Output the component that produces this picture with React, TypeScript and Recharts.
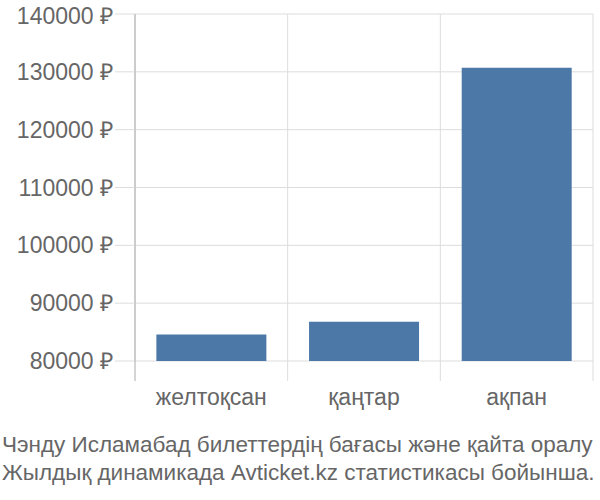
import { BarChart, Bar, XAxis, YAxis, CartesianGrid } from "recharts";

const months = ["желтоқсан", "қаңтар", "ақпан"];
const prices = [84600, 86800, 130700];
const yTicks = [80000, 90000, 100000, 110000, 120000, 130000, 140000];
const titleLines = [
  "Чэнду Исламабад билеттердің бағасы және қайта оралу",
  "Жылдық динамикада Avticket.kz статистикасы бойынша.",
];

const data = months.map((m, i) => ({ month: m, price: prices[i] }));

const textColor = "#666";
const gridColor = "#ddd";
const axisColor = "#aaa";

function MonthTick(props: any) {
  const { x, y, payload, index, visibleTicksCount, width } = props;
  const half = payload?.offset || width / visibleTicksCount / 2;
  return (
    <g>
      <line x1={x - half} x2={x - half} y1={y} y2={y + 20} stroke={index === 0 ? axisColor : gridColor} />
      {index === visibleTicksCount - 1 && (
        <line x1={x + half} x2={x + half} y1={y} y2={y + 20} stroke={gridColor} />
      )}
      <text x={x} y={y + 44} textAnchor="middle" fill={textColor} fontSize={23}>
        {payload.value}
      </text>
    </g>
  );
}

export default function App() {
  return (
    <div style={{ position: "absolute", left: 0, top: 0, width: 600, height: 500, fontFamily: "'Liberation Sans', Arial, sans-serif" }}>
      <BarChart
        width={600}
        height={420}
        data={data}
        margin={{ top: 14, right: 7, bottom: 0, left: 0 }}
        barCategoryGap="14%"
      >
        <CartesianGrid
          stroke={gridColor}
          verticalCoordinatesGenerator={({ offset }: any) =>
            months.map((_, i) => offset.left + (i * offset.width) / months.length).concat(offset.left + offset.width)
          }
        />
        <XAxis
          dataKey="month"
          axisLine={false}
          tickLine={false}
          tickSize={0}
          tickMargin={0}
          height={59}
          interval={0}
          tick={<MonthTick />}
        />
        <YAxis
          width={135}
          domain={[80000, 140000]}
          ticks={yTicks}
          allowDataOverflow
          axisLine={{ stroke: axisColor }}
          tickLine={{ stroke: gridColor }}
          tickSize={20}
          tickMargin={2}
          tick={{ fill: textColor, fontSize: 23 }}
          tickFormatter={(v: number) => `${v} ₽`}
        />
        <Bar dataKey="price" fill="#4c78a8" isAnimationActive={false} />
      </BarChart>
      <div style={{ position: "absolute", left: 2, top: 431, fontSize: 22.5, lineHeight: "28px", color: textColor, whiteSpace: "nowrap" }}>
        {titleLines.map((t) => (
          <div key={t}>{t}</div>
        ))}
      </div>
    </div>
  );
}
